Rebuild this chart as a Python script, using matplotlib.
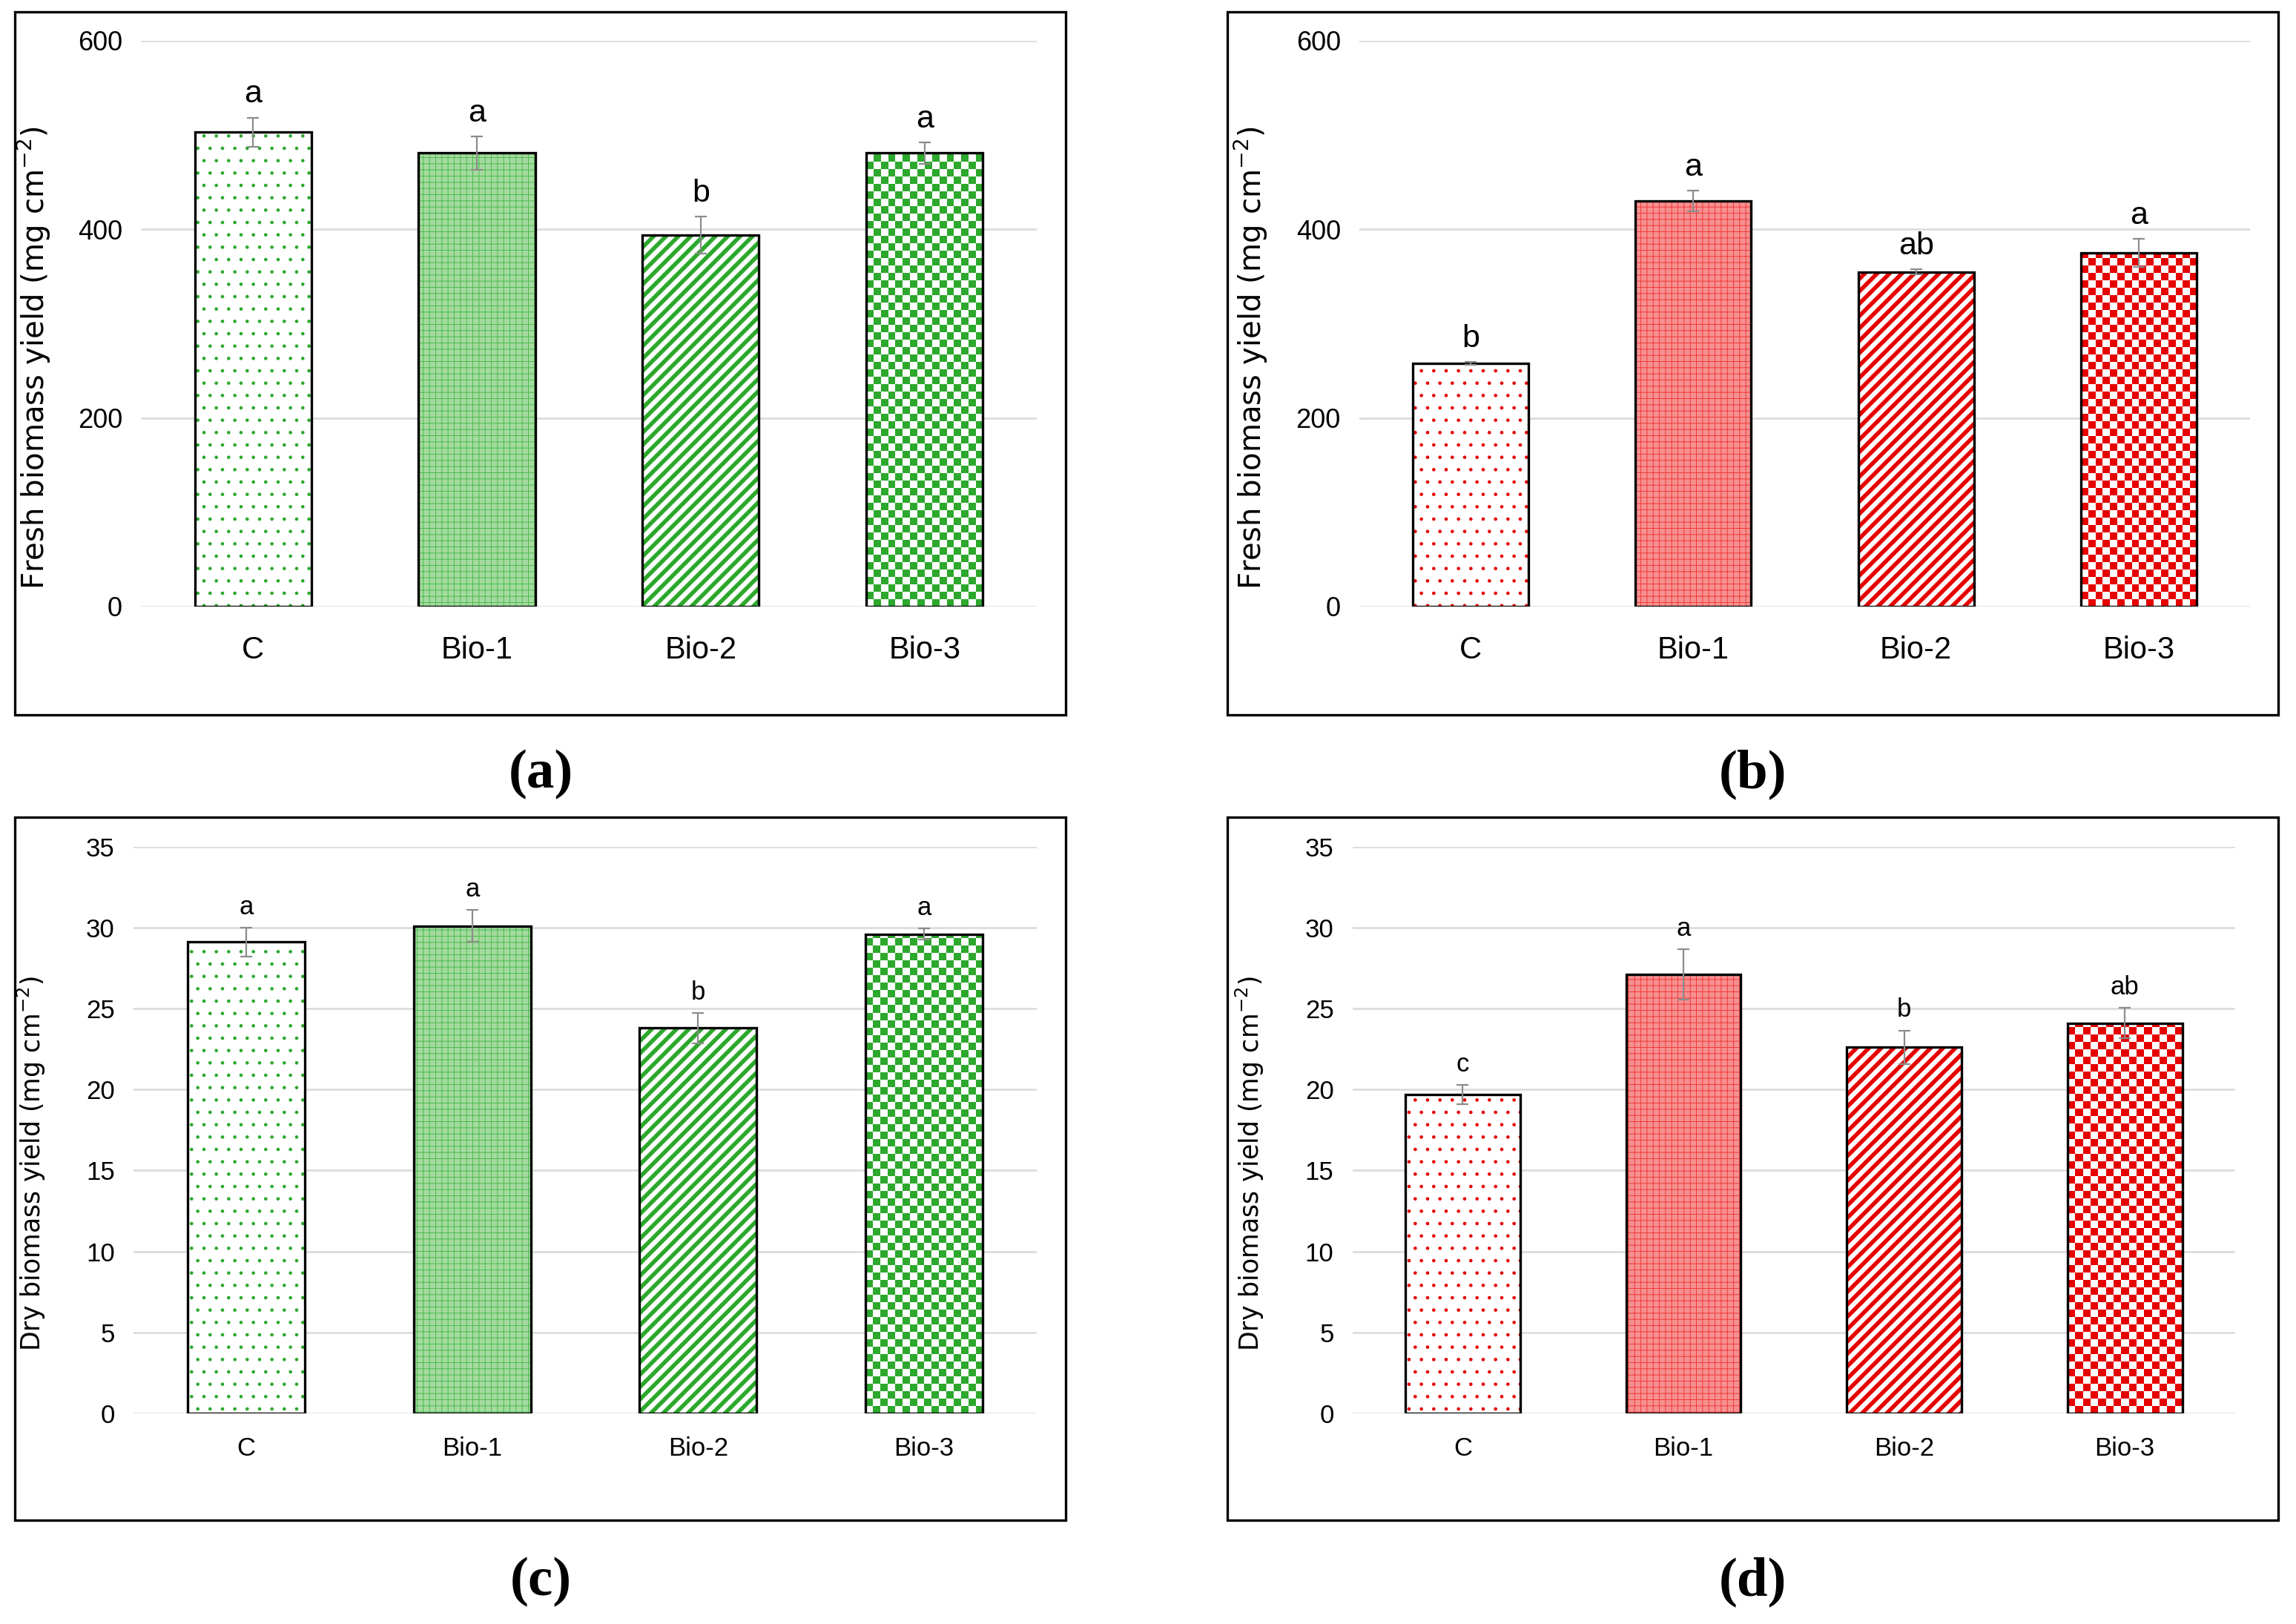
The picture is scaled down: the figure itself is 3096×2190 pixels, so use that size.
import numpy as np
import matplotlib
matplotlib.use("Agg")
import matplotlib.pyplot as plt
from matplotlib.colors import ListedColormap
from matplotlib.patches import Rectangle

categories = ['C', 'Bio-1', 'Bio-2', 'Bio-3']

fresh_green = [503, 481, 394, 481]
fresh_green_err = [15.5, 17.8, 19.5, 11.3]
fresh_green_letters = ['a', 'a', 'b', 'a']

fresh_red = [258, 430, 355, 375]
fresh_red_err = [1.5, 11, 2.5, 15]
fresh_red_letters = ['b', 'a', 'ab', 'a']

dry_green = [29.1, 30.1, 23.8, 29.6]
dry_green_err = [0.88, 1.0, 0.94, 0.34]
dry_green_letters = ['a', 'a', 'b', 'a']

dry_red = [19.7, 27.1, 22.6, 24.1]
dry_red_err = [0.6, 1.55, 1.05, 0.95]
dry_red_letters = ['c', 'a', 'b', 'ab']

GREEN = '#2ca82c'
GREEN_LIGHT = '#a4dba0'
GREEN_GRID = '#4cba4c'
RED = '#e60000'
RED_LIGHT = '#f79090'
RED_GRID = '#ee3a3a'

NARROW = ['Liberation Sans Narrow', 'Liberation Sans', 'DejaVu Sans']
plt.rcParams['font.family'] = ['Liberation Sans', 'DejaVu Sans']
plt.rcParams['mathtext.fontset'] = 'dejavusans'

DPI = 200
fig = plt.figure(figsize=(3096 / DPI, 2190 / DPI), dpi=DPI)


def checker(ax, bar, color, cell=10):
    x0, y0 = bar.get_x(), bar.get_y()
    w, h = bar.get_width(), bar.get_height()
    p0 = ax.transData.transform((x0, y0))
    p1 = ax.transData.transform((x0 + w, y0 + h))
    nx = max(1, int(round((p1[0] - p0[0]) / cell)))
    ny = int(np.ceil((p1[1] - p0[1]) / cell))
    unit = h / (p1[1] - p0[1])
    grid = np.add.outer(np.arange(ny), np.arange(nx)) % 2
    im = ax.imshow(grid, extent=(x0, x0 + w, y0, y0 + ny * cell * unit),
                   origin='lower', cmap=ListedColormap(['white', color]),
                   interpolation='nearest', aspect='auto', zorder=2)
    im.set_clip_path(bar)


def hatched(ax, x, v, width, color, hatch, lw):
    with plt.rc_context({'hatch.linewidth': lw}):
        b = ax.bar(x, v, width, facecolor='none', edgecolor=color,
                   linewidth=0, hatch=hatch, zorder=2)[0]
        if hasattr(b, 'set_hatch_linewidth'):
            b.set_hatch_linewidth(lw)


def panel(rect, values, errs, letters, color, light, grid_col, ylim, ystep, ylabel,
          tick_fs, xtick_fs, label_fs, letter_fs, label_x, xpad):
    ax = fig.add_axes(rect)
    x = np.arange(len(categories))
    ax.set_xlim(-0.5, len(categories) - 0.5)
    ax.set_ylim(0, ylim)
    ax.set_yticks(np.arange(0, ylim + ystep / 2, ystep))
    ax.set_xticks(x)
    ax.set_xticklabels(categories, fontsize=xtick_fs, family=NARROW)
    ax.set_yticklabels([f'{v:g}' for v in ax.get_yticks()], fontsize=tick_fs, family=NARROW)
    ax.tick_params(length=0)
    ax.tick_params(axis='y', pad=9)
    ax.tick_params(axis='x', pad=xpad)
    for s in ax.spines.values():
        s.set_visible(False)
    ax.set_axisbelow(True)
    ax.yaxis.grid(True, color='#d9d9d9', lw=0.9)

    width = 0.52
    faces = ['white', light, 'white', 'white']
    bars = ax.bar(x, values, width, color=faces, edgecolor='none', zorder=1)
    hatched(ax, x[0], values[0], width, color, '..', 0.45)
    hatched(ax, x[1], values[1], width, grid_col, '++++', 0.35)
    hatched(ax, x[2], values[2], width, color, '////', 2.0)
    checker(ax, bars[3], color)
    ax.bar(x, values, width, facecolor='none', edgecolor='black', linewidth=1.2, zorder=3)
    ax.errorbar(x, values, yerr=errs, fmt='none', ecolor='#8c8c8c', elinewidth=0.8,
                capsize=3, capthick=0.8, zorder=4)
    for i in range(len(x)):
        ax.annotate(letters[i], (x[i], values[i] + errs[i]), xytext=(0, 4),
                    textcoords='offset points', ha='center', va='bottom',
                    fontsize=letter_fs, family=NARROW)
    ax.set_ylabel(ylabel, fontsize=label_fs, family='DejaVu Sans')
    ax.yaxis.set_label_coords(label_x, 0.44)
    ax.set_ylim(0, ylim)
    return ax


panel([0.0614, 0.6265, 0.3901, 0.3484], fresh_green, fresh_green_err, fresh_green_letters,
      GREEN, GREEN_LIGHT, GREEN_GRID, 600, 200, 'Fresh biomass yield (mg cm$^{-2}$)',
      13, 15, 14.5, 15.5, -0.099, 14)
panel([0.592, 0.6265, 0.388, 0.3484], fresh_red, fresh_red_err, fresh_red_letters,
      RED, RED_LIGHT, RED_GRID, 600, 200, 'Fresh biomass yield (mg cm$^{-2}$)',
      13, 15, 14.5, 15.5, -0.101, 14)
panel([0.0581, 0.1297, 0.3935, 0.349], dry_green, dry_green_err, dry_green_letters,
      GREEN, GREEN_LIGHT, GREEN_GRID, 35, 5, 'Dry biomass yield (mg cm$^{-2}$)',
      12.5, 12.5, 12.5, 12.5, -0.095, 11)
panel([0.589, 0.1297, 0.3845, 0.349], dry_red, dry_red_err, dry_red_letters,
      RED, RED_LIGHT, RED_GRID, 35, 5, 'Dry biomass yield (mg cm$^{-2}$)',
      12.5, 12.5, 12.5, 12.5, -0.098, 11)

# panel frames and (a)-(d) captions
frames = [(0.0064, 0.5598), (0.5345, 0.5598), (0.0064, 0.0639), (0.5345, 0.0639)]
for fx, fy in frames:
    fig.add_artist(Rectangle((fx, fy), 0.4579, 0.4329, transform=fig.transFigure,
                             fill=False, edgecolor='black', linewidth=1.2))
captions = [('(a)', 0.2355, 0.523), ('(b)', 0.7635, 0.523),
            ('(c)', 0.2355, 0.026), ('(d)', 0.7635, 0.026)]
for t, cx, cy in captions:
    fig.text(cx, cy, t, ha='center', va='center', fontsize=27,
             family='Liberation Serif', weight='bold')

fig.savefig('out.png', dpi=DPI)
